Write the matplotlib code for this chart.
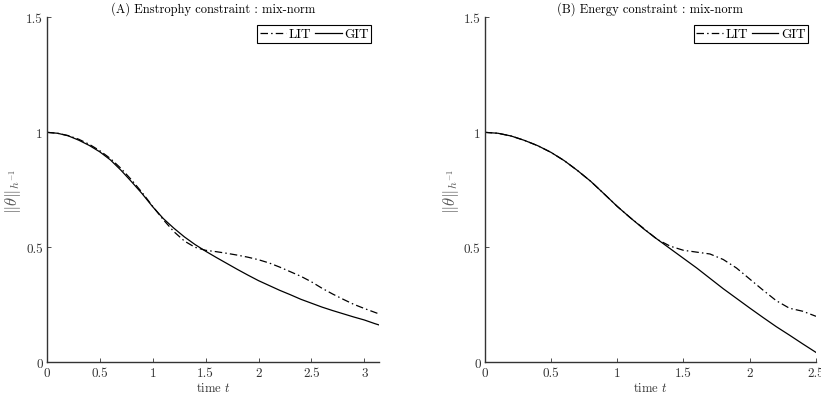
import numpy as np
import matplotlib
matplotlib.use("Agg")
import matplotlib.pyplot as plt

plt.rcParams['font.family'] = ['cmr10', 'DejaVu Serif']
plt.rcParams['mathtext.fontset'] = 'cm'
plt.rcParams['axes.formatter.use_mathtext'] = True

# ---- data ----
tA = [0.0, 0.1, 0.2, 0.3, 0.4, 0.5, 0.6, 0.7, 0.8, 0.9, 1.0, 1.1, 1.2, 1.3, 1.4, 1.5,
      1.6, 1.7, 1.8, 1.9, 2.0, 2.1, 2.2, 2.3, 2.4, 2.5, 2.6, 2.7, 2.8, 2.9, 3.0, 3.1, 3.1416]
gitA = [1.0, 0.996, 0.985, 0.966, 0.943, 0.915, 0.88, 0.835, 0.785, 0.733, 0.676, 0.625,
        0.583, 0.545, 0.512, 0.483, 0.456, 0.43, 0.404, 0.379, 0.355, 0.334, 0.313, 0.294,
        0.274, 0.257, 0.24, 0.225, 0.211, 0.197, 0.184, 0.168, 0.162]
litA = [1.0, 0.996, 0.986, 0.97, 0.948, 0.92, 0.886, 0.843, 0.793, 0.738, 0.678, 0.62,
        0.568, 0.527, 0.5, 0.487, 0.481, 0.474, 0.466, 0.457, 0.446, 0.432, 0.414, 0.394,
        0.374, 0.35, 0.322, 0.297, 0.274, 0.252, 0.234, 0.217, 0.21]

tB = [0.0, 0.1, 0.2, 0.3, 0.4, 0.5, 0.6, 0.7, 0.8, 0.9, 1.0, 1.1, 1.2, 1.3, 1.4, 1.5,
      1.6, 1.7, 1.8, 1.9, 2.0, 2.1, 2.2, 2.3, 2.4, 2.5]
gitB = [1.0, 0.996, 0.984, 0.965, 0.942, 0.913, 0.877, 0.834, 0.787, 0.733, 0.678, 0.628,
        0.58, 0.536, 0.494, 0.452, 0.41, 0.365, 0.32, 0.278, 0.236, 0.195, 0.155, 0.118,
        0.08, 0.043]
litB = [1.0, 0.996, 0.984, 0.965, 0.942, 0.913, 0.877, 0.834, 0.787, 0.733, 0.678, 0.628,
        0.582, 0.535, 0.505, 0.487, 0.479, 0.471, 0.447, 0.41, 0.362, 0.314, 0.268, 0.235,
        0.222, 0.2]

titles = ["(A) Enstrophy constraint : mix-norm", "(B) Energy constraint : mix-norm"]
xticksA = [0, 0.5, 1, 1.5, 2, 2.5, 3]
xticksB = [0, 0.5, 1, 1.5, 2, 2.5]
yticks = [0, 0.5, 1, 1.5]

axc = '#333333'
fig = plt.figure(figsize=(8.21, 4.02), dpi=100)
axA = fig.add_axes([0.0572, 0.0963, 0.4048, 0.858])
axB = fig.add_axes([0.5904, 0.0963, 0.4035, 0.858])

for ax, t, lit, git, title, xt, xmax in [
        (axA, tA, litA, gitA, titles[0], xticksA, np.pi),
        (axB, tB, litB, gitB, titles[1], xticksB, 2.5)]:
    ax.plot(t, lit, color='k', lw=0.9, linestyle=(0, (6, 2.5, 1.2, 2.5)), label='LIT')
    ax.plot(t, git, color='k', lw=0.9, linestyle='-', label='GIT')
    ax.set_xlim(0, xmax)
    ax.set_ylim(0, 1.5)
    ax.set_xticks(xt)
    ax.set_xticklabels(['%g' % v for v in xt])
    ax.set_yticks(yticks)
    ax.set_yticklabels(['%g' % v for v in yticks])
    for s in ['top', 'right']:
        ax.spines[s].set_visible(False)
    for s in ['left', 'bottom']:
        ax.spines[s].set_color(axc)
        ax.spines[s].set_linewidth(1.0)
    ax.tick_params(direction='in', length=3, width=0.6, colors=axc, labelsize=9.5,
                   pad=3)
    ax.set_title(title, fontsize=9, color='k', pad=4)
    ax.set_xlabel(r'time $t$', fontsize=9, color=axc, labelpad=2)
    ax.set_ylabel(r'$\|\theta\|_{h^{-1}}$', fontsize=12, color='#555555', labelpad=2)
    leg = ax.legend(loc='upper right', ncol=2, fontsize=9.5, frameon=True,
                    fancybox=False, edgecolor='k', framealpha=1,
                    handlelength=2.0, handletextpad=0.2, columnspacing=0.3,
                    borderpad=0.2, borderaxespad=0.6)
    leg.get_frame().set_linewidth(0.8)

fig.savefig('out.png', dpi=100)
